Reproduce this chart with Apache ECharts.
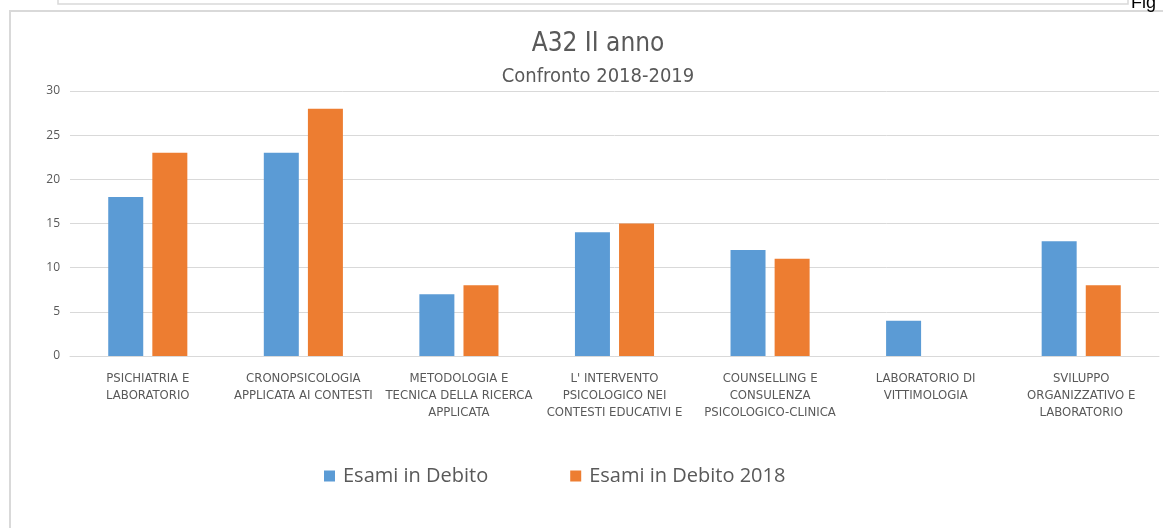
<!DOCTYPE html>
<html><head><meta charset="utf-8">
<script src="https://cdn.jsdelivr.net/npm/echarts@6/dist/echarts.min.js"></script>
<style>html,body{margin:0;padding:0;background:#fff}#c{width:1163px;height:528px}</style>
</head><body><div id="c"></div>
<script>
const categories = [
  "PSICHIATRIA E\nLABORATORIO",
  "CRONOPSICOLOGIA\nAPPLICATA AI CONTESTI",
  "METODOLOGIA E\nTECNICA DELLA RICERCA\nAPPLICATA",
  "L' INTERVENTO\nPSICOLOGICO NEI\nCONTESTI EDUCATIVI E",
  "COUNSELLING E\nCONSULENZA\nPSICOLOGICO-CLINICA",
  "LABORATORIO DI\nVITTIMOLOGIA",
  "SVILUPPO\nORGANIZZATIVO E\nLABORATORIO"
];
const esamiDebito = [18, 23, 7, 14, 12, 4, 13];
const esamiDebito2018 = [23, 28, 8, 15, 11, null, 8];
const seriesNames = ["Esami in Debito", "Esami in Debito 2018"];

const FONT = '"Liberation Sans Narrow", "DejaVu Sans Condensed", "Liberation Sans", sans-serif';
const chart = echarts.init(document.getElementById('c'));
chart.setOption({
  animation: false,
  title: [
    {text: 'A32 II anno', left: 593, textAlign: 'center', top: 26, textStyle: {fontFamily: FONT, fontSize: 26, fontWeight: 'normal', color: '#595959'}},
    {text: 'Confronto 2018-2019', left: 593, textAlign: 'center', top: 62, textStyle: {fontFamily: FONT, fontSize: 20, fontWeight: 'normal', color: '#595959'}}
  ],
  graphic: [
    {type: 'polyline', shape: {points: [[10, 528], [10, 11], [1163, 11]]}, style: {stroke: '#d9d9d9', lineWidth: 2, fill: null}},
    {type: 'polyline', shape: {points: [[58, 0], [58, 4], [1128, 4], [1128, 0]]}, style: {stroke: '#d9d9d9', lineWidth: 1.5, fill: null}},
    {type: 'text', left: 1131, top: -6, style: {text: 'Fig', font: '18px "Liberation Sans", sans-serif', fill: '#000'}}
  ],
  legend: {
    data: seriesNames, left: 319, top: 461, itemWidth: 11, itemHeight: 11, itemGap: 82,
    icon: 'rect',
    textStyle: {fontFamily: '"Open Sans", sans-serif', fontSize: 20, color: '#595959', padding: [0, 0, 0, 3]}
  },
  grid: {left: 70, right: 4, top: 91, height: 265, containLabel: false},
  xAxis: {
    type: 'category', data: categories,
    axisLine: {lineStyle: {color: '#d9d9d9'}},
    axisTick: {show: false},
    axisLabel: {interval: 0, color: '#595959', fontFamily: FONT, fontSize: 13, lineHeight: 17, margin: 14}
  },
  yAxis: {
    type: 'value', min: 0, max: 30, interval: 5,
    axisLine: {show: false}, axisTick: {show: false},
    splitLine: {lineStyle: {color: '#d9d9d9'}},
    axisLabel: {color: '#595959', fontFamily: '"Open Sans", sans-serif', fontSize: 12, margin: 10}
  },
  series: [
    {name: seriesNames[0], type: 'bar', data: esamiDebito, barWidth: 35, barGap: '26%', itemStyle: {color: '#5b9bd5'}},
    {name: seriesNames[1], type: 'bar', data: esamiDebito2018, barWidth: 35, barGap: '26%', itemStyle: {color: '#ed7d31'}}
  ]
});
</script></body></html>
